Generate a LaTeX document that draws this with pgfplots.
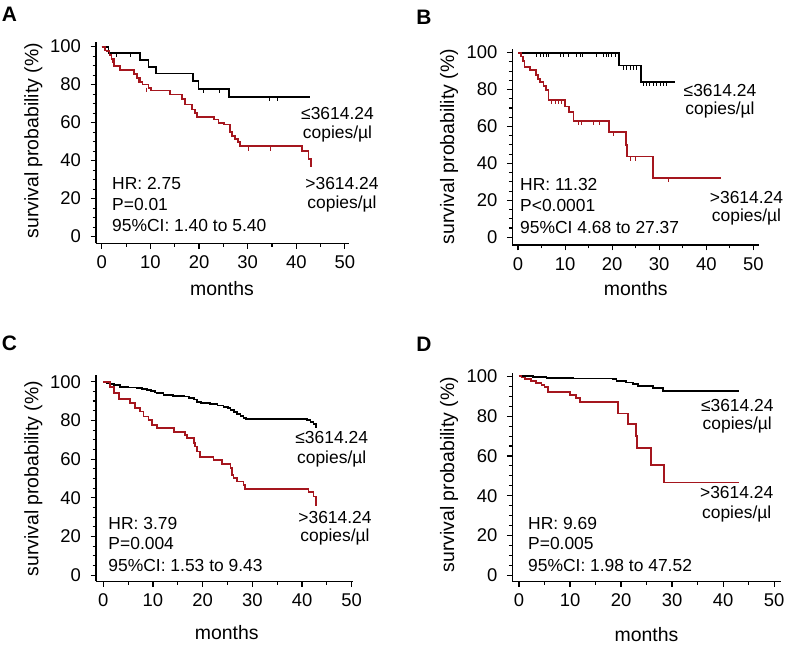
\documentclass[border=0pt]{standalone}
\usepackage{fontspec}
\setmainfont{Liberation Sans}
\usepackage{pgfplots}
\pgfplotsset{compat=1.18}
\definecolor{kmred}{RGB}{165,22,30}
\pgfplotsset{km/.style={scale only axis, axis x line*=bottom, axis y line*=left,
  axis line style={line width=1.3bp,-}, xtick={0,10,...,50}, minor x tick num=1,
  ytick={0,20,...,100}, minor y tick num=3, tick align=outside,
  major tick length=5.5bp, minor tick length=3.5bp,
  tick style={line width=1.1bp,black},
  ticklabel style={font=\fontsize{18.5}{20}\selectfont},
  yticklabel style={xshift=-6bp}, xticklabel style={yshift=-3.5bp},
  /pgf/number format/assume math mode=true, clip=false, anchor=south west},
  kmb/.style={black, line width=1.8bp, const plot, no marks},
  kmr/.style={kmred, line width=1.8bp, const plot, no marks},
  cens/.style={only marks, mark=|, mark size=2.2bp, mark options={yshift=-2bp, line width=0.9bp}}}
\newcommand\ann{\fontsize{17.5}{20}\selectfont}
\newcommand\lab{\fontsize{19.5}{22}\selectfont}
\newcommand\pan{\fontsize{21}{24}\selectfont\bfseries}
\begin{document}
\begin{tikzpicture}
\path[use as bounding box] (0bp,0bp) rectangle (787bp,647bp);
% ---------------- A
\begin{axis}[km, at={(96bp,403.7bp)}, width=253.3bp, height=201.6bp,
  xmin=-1.18, xmax=50.9, ymin=-3.5, ymax=102.6]
\addplot[kmb] coordinates {(0,100)(1.4,96.5)(7.9,92.9)(9.6,89.4)(11.2,85.9)(18.7,81.9)(19.9,77.8)(26.1,73.6)(42.9,73.6)};
\addplot[cens, black] coordinates {(3.1,96.5)(6.0,96.5)(20.9,77.8)(24.2,77.8)(34.4,73.6)(36.1,73.6)};
\addplot[kmr] coordinates {(0,100)(0.7,98)(1.0,97.7)(1.6,95.6)(2.0,93.5)(2.6,89.8)(3.8,87.5)(6.7,85.4)(7.2,83.3)(7.9,81.3)(8.4,80.1)(9.6,78.3)(10.1,76.9)(14.1,74.8)(16.5,72.5)(17.2,69.5)(18.6,66.9)(19.2,65.1)(19.6,63)(23.0,61.6)(24.0,59.9)(25.1,59.0)(26.3,54.9)(26.8,52.8)(27.4,51.2)(28.0,49.6)(28.5,47.5)(41.1,44.9)(42.5,41)(43,36.5)};
\addplot[cens, kmred] coordinates {(2.1,93.5)(7.6,83.3)(9.2,78.3)(30.2,47.5)(34.7,47.5)};
\end{axis}
% ---------------- B
\begin{axis}[km, at={(512.3bp,402bp)}, width=246.7bp, height=195.7bp,
  xmin=-1.21, xmax=51.2, ymin=-4.2, ymax=101.8]
\addplot[kmb] coordinates {(0,100)(21.5,93)(26.1,84.3)(33.4,84.3)};
\addplot[cens, black] coordinates {(3.96,100)(4.67,100)(5.38,100)(5.95,100)(6.45,100)(8.92,100)(9.63,100)(10.69,100)(12.46,100)(13.17,100)(13.74,100)(16.7,100)(18.1,100)(18.7,100)(19.2,100)(19.9,100)(20.6,100)(22.4,93)(23.1,93)(23.8,93)(24.5,93)(25.2,93)(26.6,84.3)(27.3,84.3)(28.0,84.3)(28.8,84.3)(29.5,84.3)(30.2,84.3)(30.9,84.3)(31.6,84.3)};
\addplot[kmr] coordinates {(0,100)(0.7,97.9)(1.0,95.5)(1.4,92.4)(2.6,90.6)(3.8,87.9)(4.3,85.5)(4.7,84.3)(5.4,81.8)(6.0,79.8)(6.5,74.4)(10.0,70.8)(10.9,68.0)(11.8,63.1)(19.4,57.0)(22.9,50)(23.2,43.7)(28.6,32.3)(43.1,32.3)};
\addplot[cens, kmred] coordinates {(7.2,74.4)(7.9,74.4)(8.6,74.4)(9.3,74.4)(12.8,63.1)(13.5,63.1)(16.0,63.1)(17.4,63.1)(20.2,57.0)(23.8,43.7)(24.9,43.7)(31.9,32.3)};
\end{axis}
% ---------------- C
\begin{axis}[km, at={(96bp,65.7bp)}, width=256.7bp, height=206.6bp,
  xmin=-1.47, xmax=50.2, ymin=-3.1, ymax=103.6]
\addplot[kmb] coordinates {(0,100)(0.8,99.3)(1.4,98.7)(2.2,98.1)(3.4,97.4)(5.0,97.0)(6.8,96.6)(7.8,96.1)(8.8,95.7)(9.6,95.0)(10.4,94.4)(10.8,94.0)(12.1,93.1)(14.0,92.7)(16.2,92.3)(17.3,91.6)(18.2,90.8)(18.8,89.7)(19.6,89.0)(21.5,88.3)(23.0,87.7)(24.2,87.1)(25.1,86.3)(25.6,85.4)(26.3,84.3)(26.9,83.1)(27.6,82.2)(28.2,81.4)(28.8,80.8)(41.0,80.0)(41.7,79.2)(42.3,78.3)(42.8,76.4)(42.9,76.4)};
\addplot[kmr] coordinates {(0,100)(1.4,97.4)(2.1,94.0)(3.1,91.1)(5.4,88.9)(6.4,86.3)(7.4,84.6)(8.1,82.0)(9.1,80.3)(9.8,77.7)(10.8,76.0)(14.2,74.2)(16.5,72.5)(16.8,70.8)(18.2,68.5)(18.5,66.5)(18.8,63.9)(19.5,61.3)(22.2,59.6)(23.9,57.3)(25.6,55.3)(25.9,51.8)(26.2,50.1)(26.9,48.4)(28.2,46.7)(28.6,44.6)(41.3,42.9)(42.3,40.7)(42.8,36.4)(42.9,36.4)};
\end{axis}
% ---------------- D
\begin{axis}[km, at={(512.3bp,65.7bp)}, width=268.4bp, height=208.3bp,
  xmin=-1.31, xmax=51.3, ymin=-3.0, ymax=101.7]
\addplot[kmb] coordinates {(0,100)(2.7,99.6)(5.4,99.3)(10.6,98.9)(18.4,98.5)(19.1,97.8)(21.0,96.9)(22.4,96.1)(23.3,95.0)(26.3,94.1)(28.2,92.7)(43.1,92.7)};
\addplot[kmr] coordinates {(0,100)(0.5,99.4)(1.1,98.8)(2.4,97.8)(3.4,96.6)(4.4,95.8)(5.0,94.5)(5.7,92.3)(10.0,90.8)(11.2,89.2)(11.9,87.1)(19.4,81.3)(21.4,76.0)(22.9,70.2)(23.1,64.0)(25.9,55.5)(28.5,46.7)(43.1,46.7)};
\end{axis}
% ---------------- texts
\begin{scope}[x=1bp,y=1bp]
\node[font=\pan] at (9.5,632.5) {A};
\node[font=\pan] at (424,629.5) {B};
\node[font=\pan] at (9.5,304) {C};
\node[font=\pan] at (424,302.5) {D};
% y labels
\node[font=\lab, rotate=90] at (33.3,506.2) {survival probability (\%)};
\node[font=\lab, rotate=90] at (449,500.3) {survival probability (\%)};
\node[font=\lab, rotate=90] at (33.3,168.2) {survival probability (\%)};
\node[font=\lab, rotate=90] at (449,172.3) {survival probability (\%)};
% x labels
\node[font=\lab, anchor=base] at (222,352) {months};
\node[font=\lab, anchor=base] at (635.7,352) {months};
\node[font=\lab, anchor=base] at (226.7,7.3) {months};
\node[font=\lab, anchor=base] at (646.5,5.7) {months};
% curve labels A
\node[font=\ann, anchor=base] at (337.5,527) {≤3614.24};
\node[font=\ann, anchor=base] at (337.5,508.7) {copies/µl};
\node[font=\ann, anchor=base] at (342,457) {>3614.24};
\node[font=\ann, anchor=base] at (342,438.7) {copies/µl};
% B
\node[font=\ann, anchor=base] at (720,550.3) {≤3614.24};
\node[font=\ann, anchor=base] at (720,532) {copies/µl};
\node[font=\ann, anchor=base] at (746.5,443.7) {>3614.24};
\node[font=\ann, anchor=base] at (746.5,425.3) {copies/µl};
% C
\node[font=\ann, anchor=base] at (331.7,204) {≤3614.24};
\node[font=\ann, anchor=base] at (331.7,184) {copies/µl};
\node[font=\ann, anchor=base] at (335,124) {>3614.24};
\node[font=\ann, anchor=base] at (335,105.7) {copies/µl};
% D
\node[font=\ann, anchor=base] at (737.3,235.7) {≤3614.24};
\node[font=\ann, anchor=base] at (737.3,217.3) {copies/µl};
\node[font=\ann, anchor=base] at (736.7,149) {>3614.24};
\node[font=\ann, anchor=base] at (736.7,129) {copies/µl};
% stats
\node[font=\ann, anchor=base west, inner sep=0] at (112,457) {HR: 2.75};
\node[font=\ann, anchor=base west, inner sep=0] at (112,436.5) {P=0.01};
\node[font=\ann, anchor=base west, inner sep=0] at (112,415.3) {95\%CI: 1.40 to 5.40};
\node[font=\ann, anchor=base west, inner sep=0] at (520,456.3) {HR: 11.32};
\node[font=\ann, anchor=base west, inner sep=0] at (520,435.3) {P<0.0001};
\node[font=\ann, anchor=base west, inner sep=0] at (520,413.7) {95\%CI 4.68 to 27.37};
\node[font=\ann, anchor=base west, inner sep=0] at (108.3,117.3) {HR: 3.79};
\node[font=\ann, anchor=base west, inner sep=0] at (108.3,97.3) {P=0.004};
\node[font=\ann, anchor=base west, inner sep=0] at (108.3,75.7) {95\%CI: 1.53 to 9.43};
\node[font=\ann, anchor=base west, inner sep=0] at (528,117.3) {HR: 9.69};
\node[font=\ann, anchor=base west, inner sep=0] at (528,97.3) {P=0.005};
\node[font=\ann, anchor=base west, inner sep=0] at (528,75.7) {95\%CI: 1.98 to 47.52};
\end{scope}
\end{tikzpicture}
\end{document}
